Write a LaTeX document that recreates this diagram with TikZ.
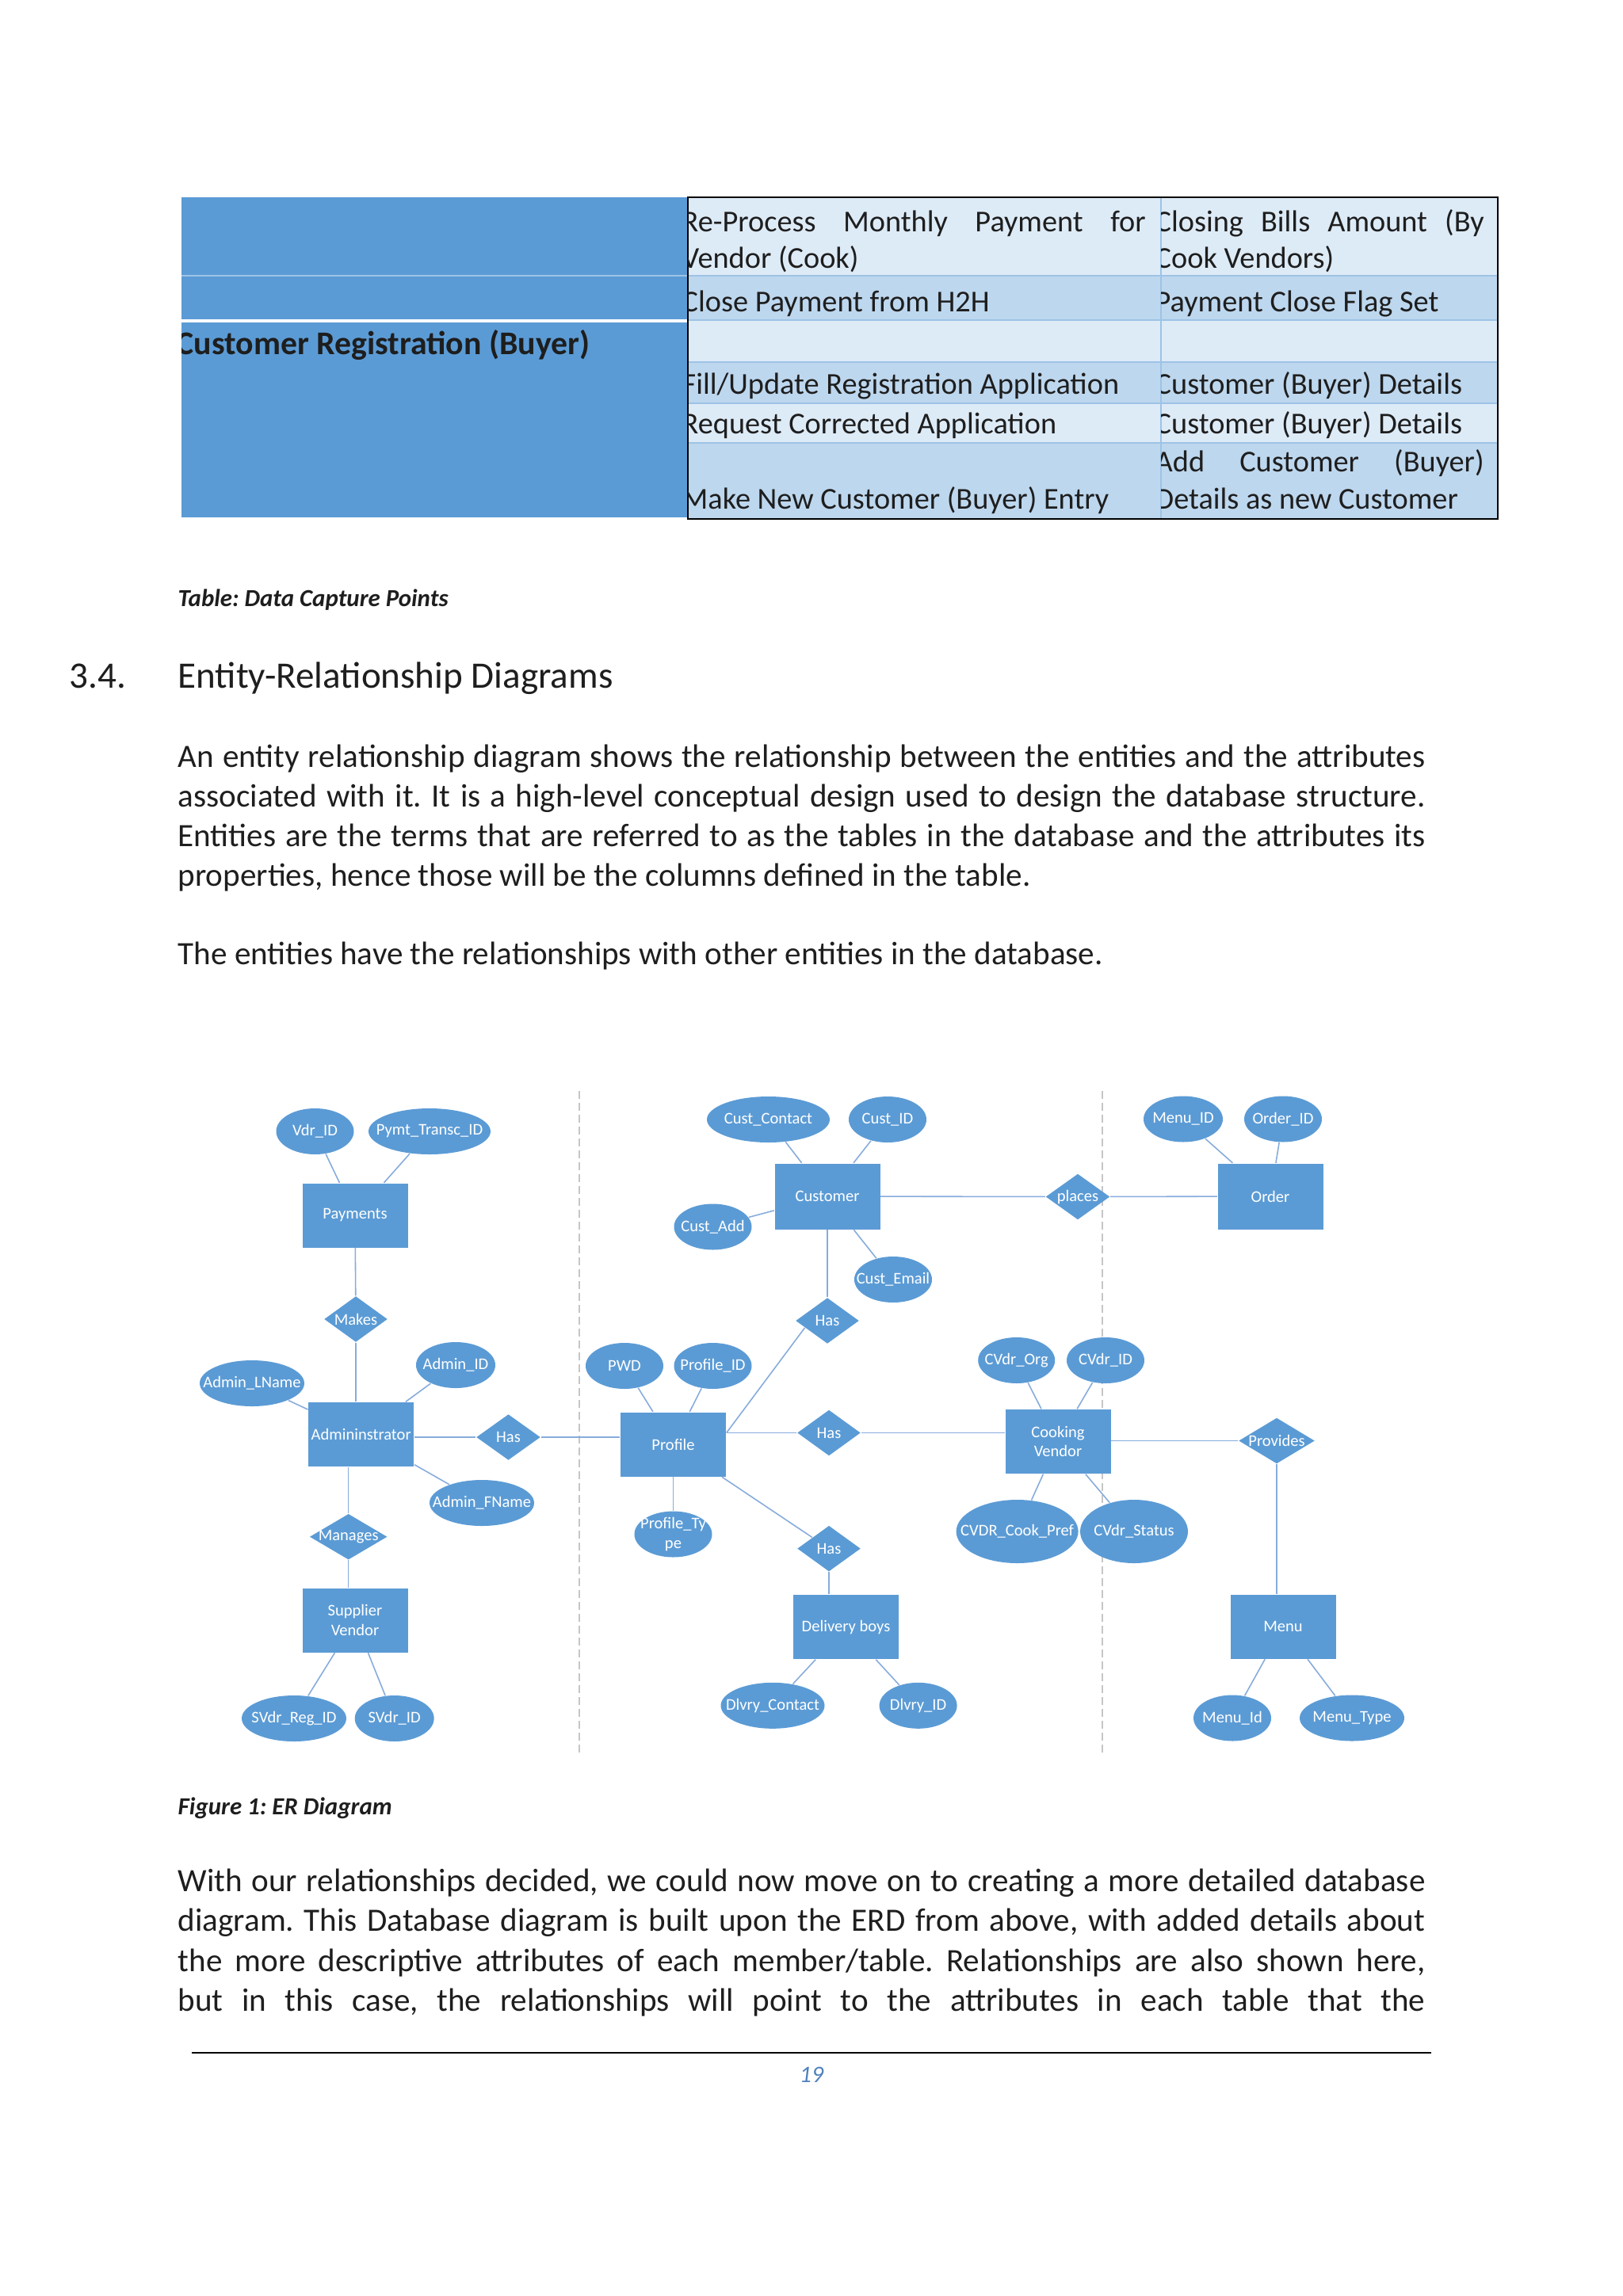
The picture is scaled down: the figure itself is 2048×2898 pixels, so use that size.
\documentclass[tikz,border=0pt]{standalone}
\usepackage{fontspec}
\setmainfont{Carlito}
\usepackage{xcolor}
\usetikzlibrary{shapes.geometric, calc}

\definecolor{erblue}{RGB}{91,155,213}
\definecolor{erline}{RGB}{135,172,220}
\definecolor{tabdark}{RGB}{91,155,213}
\definecolor{tablight}{RGB}{221,235,247}
\definecolor{tabmid}{RGB}{189,215,238}
\definecolor{tabrule}{RGB}{157,195,230}
\definecolor{textgray}{RGB}{30,30,30}
\definecolor{pagenum}{RGB}{79,129,189}

\newcommand{\erfont}{\fontsize{5.85}{6.9}\selectfont}
\newcommand{\txtfont}{\fontsize{11.7}{14}\selectfont}
\newcommand{\tabfont}{\fontsize{10.9}{13}\selectfont}
\newcommand{\capfont}{\fontsize{8.8}{10}\selectfont\bfseries\itshape}
\newcommand{\jline}[2]{\makebox[#1][s]{#2}}
\frenchspacing

\begin{document}
\begin{tikzpicture}[x=0.1mm, y=-0.1mm,
    zerowidth/.style={execute at begin node={\hbox to 0pt\bgroup\hss}, execute at end node={\hss\egroup}},
    entity/.style={rectangle, fill=erblue, text=white, minimum width=13.3mm, minimum height=8.1mm, inner sep=0pt, align=center, font=\erfont},
    attribshape/.style={ellipse, fill=erblue, text=white, minimum width=9.8mm, minimum height=5.8mm, inner sep=0pt, font=\erfont},
    attrib/.style={attribshape, zerowidth},
    rel/.style={diamond, fill=erblue, text=white, minimum width=8mm, minimum height=5.8mm, inner sep=0pt, font=\erfont, zerowidth},
    link/.style={draw=erline, line width=0.45pt},
    divider/.style={draw=gray!45, dash pattern=on 1mm off 0.5mm, line width=0.4pt},
    bodytext/.style={anchor=base west, inner sep=0pt, font=\txtfont, text=textgray},
    celltext/.style={anchor=base west, inner sep=0pt, font=\tabfont, text=textgray}
  ]
  \useasboundingbox (0,0) rectangle (2048,2898);
  \fill[white] (0,0) rectangle (2048,2898);

  % Table: left block
  \fill[tabdark] (229,249) rectangle (868,653);
  \draw[tabdark!60!white, line width=0.5pt] (229,348) -- (868,348);
  \draw[white, line width=1.1pt] (229,405) -- (868,405);
  \begin{scope}
    \clip (229,249) rectangle (868,653);
    \node[celltext, font=\fontsize{11.9}{14}\selectfont\bfseries] (reg) at (222,447) {Customer Registration (Buyer)};
  \end{scope}
  % Table: rows
  \foreach \ya/\yb/\c in {249/348/tablight, 348/404/tabmid, 404/457/tablight, 457/509/tabmid, 509/559/tablight, 559/655/tabmid}
    \fill[\c] (868,\ya) rectangle (1890,\yb);
  \foreach \y in {348,404,457,509,559}
    \draw[tabrule, line width=0.6pt] (868,\y) -- (1890,\y);
  \draw[tabrule, line width=0.6pt] (1465,249) -- (1465,655);
  \draw[black, line width=0.7pt] (868,249) rectangle (1890,655);
  \begin{scope}
    \clip (868,249) rectangle (1465,655);
    \node[celltext] (c1a) at (860,292) {\jline{58.5mm}{Re-Process Monthly Payment for}};
    \node[celltext] (c1b) at (860,338) {Vendor (Cook)};
    \node[celltext] (c2) at (860,393) {Close Payment from H2H};
    \node[celltext] (c4) at (860,497) {Fill/Update Registration Application};
    \node[celltext] (c5) at (860,547) {Request Corrected Application};
    \node[celltext] (c6) at (860,642) {Make New Customer (Buyer) Entry};
  \end{scope}
  \begin{scope}
    \clip (1465,249) rectangle (1890,655);
    \node[celltext] (d1a) at (1457,292) {\jline{41.5mm}{Closing Bills Amount (By}};
    \node[celltext] (d1b) at (1457,338) {Cook Vendors)};
    \node[celltext] (d2) at (1457,393) {Payment Close Flag Set};
    \node[celltext] (d4) at (1457,497) {Customer (Buyer) Details};
    \node[celltext] (d5) at (1457,547) {Customer (Buyer) Details};
    \node[celltext] (d6a) at (1457,595) {\jline{41.5mm}{Add Customer (Buyer)}};
    \node[celltext] (d6b) at (1457,642) {Details as new Customer};
  \end{scope}

  % Captions, heading and text
  \node[bodytext, font=\capfont] (tcap) at (224,765) {Table: Data Capture Points};
  \node[bodytext, font=\fontsize{13.4}{16}\selectfont] (secno) at (87,868) {3.4.};
  \node[bodytext, font=\fontsize{13.4}{16}\selectfont] (sec) at (224,868) {Entity-Relationship Diagrams};
  \node[bodytext] (p1a) at (224,968) {\jline{157.4mm}{An entity relationship diagram shows the relationship between the entities and the attributes}};
  \node[bodytext] (p1b) at (224,1018) {\jline{157.4mm}{associated with it. It is a high-level conceptual design used to design the database structure.}};
  \node[bodytext] (p1c) at (224,1068) {\jline{157.4mm}{Entities are the terms that are referred to as the tables in the database and the attributes its}};
  \node[bodytext] (p1d) at (224,1118) {properties, hence those will be the columns defined in the table.};
  \node[bodytext] (p2) at (224,1217) {The entities have the relationships with other entities in the database.};

  % Dividers of the ER diagram
  \draw[divider] (731,1377) -- (731,2212);
  \draw[divider] (1391,1377) -- (1391,2212);

  % Admin side
  \node[entity] (pay) at (448,1534) {Payments};
  \node[attrib] (vdrid) at (397.5,1428) {Vdr\_ID};
  \node[attrib, minimum width=15.4mm] (pymt) at (542,1428) {Pymt\_Transc\_ID};
  \node[rel] (makes) at (449,1665) {Makes};
  \node[entity] (admin) at (455.7,1810.5) {Admininstrator};
  \node[attrib, minimum width=13.2mm] (adlname) at (318,1746) {Admin\_LName};
  \node[attrib, minimum width=10mm] (adid) at (575,1723) {Admin\_ID};
  \node[attrib, minimum width=13.2mm] (adfname) at (608,1897) {Admin\_FName};
  \node[rel, minimum width=8.1mm] (hasA) at (641.5,1814) {Has};
  \node[rel, minimum width=9.8mm] (manages) at (439.7,1939.7) {Manages};
  \node[entity] (supp) at (448,2045) {Supplier\\Vendor};
  \node[attrib, minimum width=13.2mm] (svreg) at (371,2169) {SVdr\_Reg\_ID};
  \node[attrib, minimum width=10mm] (svid) at (497.7,2169) {SVdr\_ID};

  % Customer and order
  \node[entity, minimum height=8.3mm] (cust) at (1044,1510) {Customer};
  \node[attrib, minimum width=15.5mm] (cucon) at (969.5,1413) {Cust\_Contact};
  \node[attrib] (cuid) at (1120,1413) {Cust\_ID};
  \node[attrib] (cuadd) at (899.5,1548.5) {Cust\_Add};
  \node[attrib] (cuemail) at (1127,1615) {Cust\_Email};
  \node[rel] (hasB) at (1044,1667) {Has};
  \node[rel, minimum width=8.1mm] (places) at (1360,1510.5) {places};
  \node[entity, minimum height=8.3mm] (order) at (1603,1510) {Order};
  \node[attrib, minimum width=10mm] (menuid) at (1493,1412.5) {Menu\_ID};
  \node[attrib] (orderid) at (1619,1412.5) {Order\_ID};

  % Profile and delivery
  \node[entity] (prof) at (849.5,1823) {Profile};
  \node[attrib] (pwd) at (788,1724) {PWD};
  \node[attrib] (profid) at (899.5,1724) {Profile\_ID};
  \node[attribshape, align=center, inner xsep=-1.6mm, inner ysep=-0.3mm] (proftype) at (849.5,1936.5) {Profile\_Ty\\pe};
  \node[rel] (hasC) at (1046,1808.5) {Has};
  \node[rel] (hasD) at (1046,1954.6) {Has};
  \node[entity] (deliv) at (1067.5,2053.5) {Delivery boys};
  \node[attrib, minimum width=13.1mm] (dlcon) at (975,2152.8) {Dlvry\_Contact};
  \node[attrib] (dlid) at (1158.6,2152.8) {Dlvry\_ID};

  % Cooking vendor and menu
  \node[entity] (cook) at (1335,1819.5) {Cooking\\Vendor};
  \node[attrib, minimum width=9.7mm] (cvorg) at (1282.7,1717) {CVdr\_Org};
  \node[attrib] (cvid) at (1395,1717) {CVdr\_ID};
  \node[attrib, minimum width=15.4mm, minimum height=8mm] (cvpref) at (1283.6,1933) {CVDR\_Cook\_Pref};
  \node[attrib, minimum width=13.6mm, minimum height=8mm] (cvstat) at (1431,1933) {CVdr\_Status};
  \node[rel, minimum width=9.6mm] (provides) at (1611,1818.5) {Provides};
  \node[entity] (menu) at (1619,2053) {Menu};
  \node[attrib] (mnid) at (1555,2168.5) {Menu\_Id};
  \node[attrib, minimum width=13.2mm] (mntype) at (1706,2168.5) {Menu\_Type};

  % Connectors
  \draw[link] (vdrid) -- (pay);
  \draw[link] (pymt) -- (pay);
  \draw[link] (pay) -- (makes);
  \draw[link] (makes) -- (makes |- admin.north);
  \draw[link] (adlname) -- (admin);
  \draw[link] (adid) -- (admin);
  \draw[link] (adfname) -- (admin);
  \draw[link] (hasA) -- (hasA -| admin.east);
  \draw[link] (hasA) -- (hasA -| prof.west);
  \draw[link] (manages) -- (manages |- admin.south);
  \draw[link] (manages) -- (manages |- supp.north);
  \draw[link] (svreg) -- (supp);
  \draw[link] (svid) -- (supp);
  \draw[link] (cucon) -- (cust);
  \draw[link] (cuid) -- (cust);
  \draw[link] (cuadd) -- (cust);
  \draw[link] (cuemail) -- (cust);
  \draw[link] (cust) -- (hasB);
  \draw[link] (cust) -- (places);
  \draw[link] (places) -- (order);
  \draw[link] (menuid) -- (order);
  \draw[link] (orderid) -- (order);
  \draw[link] (pwd) -- (prof);
  \draw[link] (profid) -- (prof);
  \draw[link] (prof) -- (proftype);
  \draw[link] (prof.east |- hasC) -- ($(hasB.west)!0.3!(hasB.south)$);
  \draw[link] (hasC) -- (hasC -| prof.east);
  \draw[link] (hasC) -- (hasC -| cook.west);
  \draw[link] (prof) -- (hasD);
  \draw[link] (hasD) -- (hasD |- deliv.north);
  \draw[link] (dlcon) -- (deliv);
  \draw[link] (dlid) -- (deliv);
  \draw[link] (cvorg) -- (cook);
  \draw[link] (cvid) -- (cook);
  \draw[link] (cvpref) -- (cook);
  \draw[link] (cvstat) -- (cook);
  \draw[link] (provides) -- (provides -| cook.east);
  \draw[link] (provides) -- (provides |- menu.north);
  \draw[link] (mnid) -- (menu);
  \draw[link] (mntype) -- (menu);

  % Caption, text after the figure and footer
  \node[bodytext, font=\capfont] (fcap) at (224,2290) {Figure 1: ER Diagram};
  \node[bodytext] (p3a) at (224,2387) {\jline{157.4mm}{With our relationships decided, we could now move on to creating a more detailed database}};
  \node[bodytext] (p3b) at (224,2437) {\jline{157.4mm}{diagram. This Database diagram is built upon the ERD from above, with added details about}};
  \node[bodytext] (p3c) at (224,2488) {\jline{157.4mm}{the more descriptive attributes of each member/table. Relationships are also shown here,}};
  \node[bodytext] (p3d) at (224,2538) {\jline{157.4mm}{but in this case, the relationships will point to the attributes in each table that the}};
  \draw[black, line width=0.6pt] (242,2591) -- (1806,2591);
  \node[anchor=base, inner sep=0pt, font=\fontsize{8.5}{10}\selectfont\itshape, text=pagenum] (pnum) at (1024,2628) {19};
\end{tikzpicture}
\end{document}
